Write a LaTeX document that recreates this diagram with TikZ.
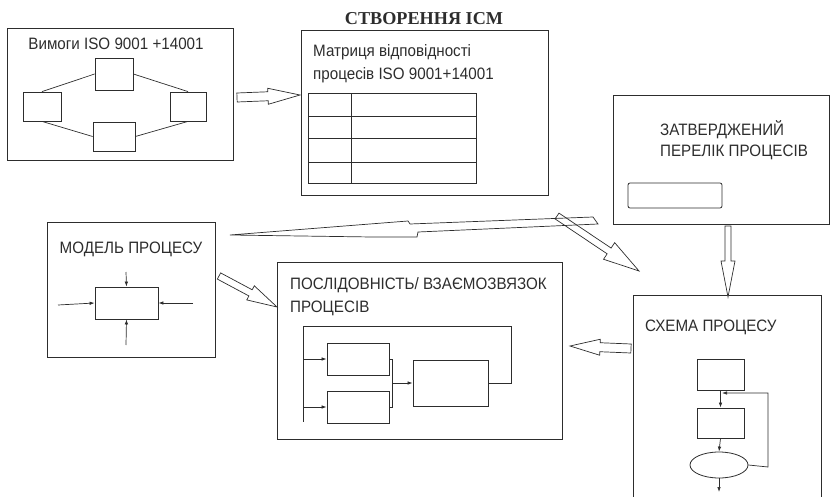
\documentclass[tikz,border=0pt]{standalone}
\usepackage{fontspec}
\setmainfont{Liberation Sans}[FakeStretch=0.92]
\newfontfamily\titlefont{Liberation Serif}
\usepackage{tikz}
\usetikzlibrary{calc,arrows.meta,shapes.geometric,positioning}
\definecolor{myink}{RGB}{45,45,45}
\tikzstyle{panel}=[draw=myink,rectangle,inner sep=0pt,line width=0.9pt]
\tikzstyle{inbox}=[draw=myink,rectangle,inner sep=0pt,line width=0.8pt]
\tikzstyle{txt}=[inner sep=0pt,text=myink,font=\fontsize{16.5}{18}\selectfont]
\tikzstyle{wire}=[draw=myink,line width=0.7pt]
\tikzstyle{flow}=[wire,-{Latex[length=5pt,width=3.5pt]}]
\tikzstyle{barrow}=[draw=myink,line width=0.7pt,fill=white]
% hollow block arrow: from, to, half shaft, half head, head length
\newcommand{\blockarrow}[5]{%
  \coordinate (ba-h) at ($(#2)!#5pt!(#1)$);
  \draw[barrow] ($(#1)!#3pt!90:(#2)$) -- ($(ba-h)!#3pt!90:(#2)$)
    -- ($(ba-h)!#4pt!90:(#2)$) -- (#2) -- ($(ba-h)!#4pt!-90:(#2)$)
    -- ($(ba-h)!#3pt!-90:(#2)$) -- ($(#1)!#3pt!-90:(#2)$) -- cycle;}

\begin{document}
\begin{tikzpicture}[x=1pt,y=-1pt]
\useasboundingbox (0,0) rectangle (832,497);
\draw (424,19) node [inner sep=0pt,text=myink,font=\titlefont\bfseries\fontsize{18.2}{20}\selectfont] (title) {СТВОРЕННЯ ІСМ};

% requirements
\draw (120,94) node [panel, minimum width=226pt, minimum height=132pt] (req) {};
\draw (116,44) node [txt] (reqtxt) {Вимоги ISO 9001 +14001};
\draw (114,74) node [inbox, minimum width=38pt, minimum height=32pt] (r1) {};
\draw (42,106.5) node [inbox, minimum width=38pt, minimum height=29pt] (r2) {};
\draw (188,106.5) node [inbox, minimum width=36pt, minimum height=29pt] (r3) {};
\draw (114,136.5) node [inbox, minimum width=42pt, minimum height=29pt] (r4) {};
\draw[wire] (r2.north) -- (r1.west);
\draw[wire] (r1.east) -- (r3.north);
\draw[wire] (r2.south) -- (r4.west);
\draw[wire] (r4.east) -- (r3.south);

% matrix
\draw (424.5,112.5) node [panel, minimum width=247pt, minimum height=165pt] (mat) {};
\draw (313,52) node [txt, anchor=west] (mattxt1) {Матриця відповідності};
\draw (313,75.5) node [txt, anchor=west] (mattxt2) {процесів ISO 9001+14001};
\draw (329.5,104.5) node [inbox, minimum width=43pt, minimum height=23pt] (ca1) {};
\draw (413.5,104.5) node [inbox, minimum width=125pt, minimum height=23pt] (cb1) {};
\draw (329.5,127) node [inbox, minimum width=43pt, minimum height=22pt] (ca2) {};
\draw (413.5,127) node [inbox, minimum width=125pt, minimum height=22pt] (cb2) {};
\draw (329.5,150) node [inbox, minimum width=43pt, minimum height=24pt] (ca3) {};
\draw (413.5,150) node [inbox, minimum width=125pt, minimum height=24pt] (cb3) {};
\draw (329.5,172.5) node [inbox, minimum width=43pt, minimum height=21pt] (ca4) {};
\draw (413.5,172.5) node [inbox, minimum width=125pt, minimum height=21pt] (cb4) {};

% approved list
\draw (721,159.5) node [panel, minimum width=216pt, minimum height=129pt] (list) {};
\draw (660,130) node [txt, anchor=west] (listtxt1) {ЗАТВЕРДЖЕНИЙ};
\draw (660,152.5) node [txt, anchor=west] (listtxt2) {ПЕРЕЛІК ПРОЦЕСІВ};
\draw (675,195.5) node [inbox, rounded corners=2pt, minimum width=94pt, minimum height=25pt] (slot) {};

% process scheme
\draw (727,400) node [panel, minimum width=188pt, minimum height=210pt] (scheme) {};
\draw (645,327) node [txt, anchor=west] (schemetxt) {СХЕМА ПРОЦЕСУ};
\draw (720.5,374.5) node [inbox, minimum width=47pt, minimum height=31pt] (s1) {};
\draw (720.5,423) node [inbox, minimum width=47pt, minimum height=30pt] (s2) {};
\draw (719,465) node [inbox, ellipse, minimum width=58pt, minimum height=26pt] (s3) {};
\coordinate (sout) at (719,492);
\coordinate (sback) at (722,393);
\draw[flow] (s1.south) -- (s2.north);
\draw[flow] (s2.south) -- (s3.north);
\draw[flow] (s3.south) -- (sout);
\draw[flow] (s3.east) -- (768,467) |- (sback);

% sequence
\draw (419.5,350.5) node [panel, minimum width=285pt, minimum height=177pt] (seq) {};
\draw (290,285.5) node [txt, anchor=west] (seqtxt1) {ПОСЛІДОВНІСТЬ/ ВЗАЄМОЗВЯЗОК};
\draw (290,308.5) node [txt, anchor=west] (seqtxt2) {ПРОЦЕСІВ};
\draw (358,359) node [inbox, minimum width=62pt, minimum height=32pt] (qa) {};
\draw (358,407) node [inbox, minimum width=62pt, minimum height=32pt] (qb) {};
\draw (450.5,383) node [inbox, minimum width=75pt, minimum height=46pt] (qc) {};
\coordinate (bus) at (303,326);
\draw[wire] (qc.east) -- (511,383) |- (bus) -- (303,422);
\draw[flow] (303,359) -- (qa.west);
\draw[flow] (303,407) -- (qb.west);
\draw[wire] (qa.east) -- (392,359) -- (392,407) -- (qb.east);
\draw[flow] (392,383) -- (qc.west);

% process model
\draw (131,289.5) node [panel, minimum width=168pt, minimum height=135pt] (model) {};
\draw (131,249) node [txt] (modeltxt) {МОДЕЛЬ ПРОЦЕСУ};
\draw (126.5,303) node [inbox, minimum width=63pt, minimum height=32pt] (m) {};
\draw[flow] (58,305) -- (m.west);
\draw[flow] (193,303) -- (m.east);
\draw[flow] (126,272) -- (m.north);
\draw[flow] (126,345) -- (m.south);

% block arrows
\coordinate (a1) at (237,97.5);  \coordinate (a1e) at (300,95);
\coordinate (a2) at (728,226);   \coordinate (a2e) at (728,297);
\coordinate (a3) at (631,348.5); \coordinate (a3e) at (570,346);
\coordinate (a4) at (219,276);   \coordinate (a4e) at (277,307);
\coordinate (a6) at (557,216);   \coordinate (a6e) at (639,271);
\blockarrow{a1}{a1e}{4.5}{8}{32}
\blockarrow{a2}{a2e}{3}{7}{36}
\blockarrow{a3}{a3e}{4.5}{8}{30}
\blockarrow{a4}{a4e}{3.5}{8}{30}
\blockarrow{a6}{a6e}{3.5}{10}{36}
\draw[barrow, fill=none] (230,235) -- (408,221) -- (410,224) -- (593,217) -- (598,224)
  -- (418,232) -- (417,237) -- (372,237) -- cycle;
\end{tikzpicture}
\end{document}
